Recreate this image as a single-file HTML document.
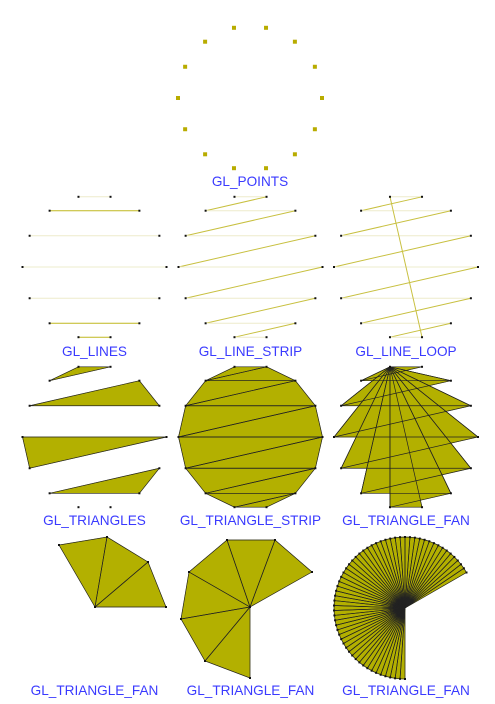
<!DOCTYPE html>
<html><head><meta charset="utf-8">
<style>
html,body{margin:0;padding:0;background:#fff;}
svg{display:block;}
text{font-family:"Liberation Sans",Arial,sans-serif;font-size:13.6px;fill:#3a3aff;}
</style></head>
<body>
<svg id="s" width="495" height="704" viewBox="0 0 495 704"></svg>
<script>
const panelNames = ["GL_POINTS","GL_LINES","GL_LINE_STRIP","GL_LINE_LOOP","GL_TRIANGLES","GL_TRIANGLE_STRIP","GL_TRIANGLE_FAN","GL_TRIANGLE_FAN","GL_TRIANGLE_FAN","GL_TRIANGLE_FAN"];
const vertexCount = 14;
const radius = 72;
const fan1Pts = [[95,607],[59,545],[107,537],[148,562],[166,607]];
const fan2Pts = [[250,607],[312,572],[275,540],[227,540],[189,572],[181,619],[205,661],[250,678]];
const fan3StartDeg = 30;
const fan3EndDeg = 270;
const fan3Segments = 60;

const S = document.getElementById('s');
const NS = 'http://www.w3.org/2000/svg';
const FILL = '#b3b000';
function el(tag, attrs, name){
  const e = document.createElementNS(NS, tag);
  for (const k in attrs) e.setAttribute(k, attrs[k]);
  
  
  S.appendChild(e);
  return e;
}
function circlePts(cx, cy){
  const pts = [];
  const rows = vertexCount/2;
  for (let k=0;k<rows;k++){
    const a = (90 + 180/vertexCount + k*360/vertexCount) * Math.PI/180;
    const dx = radius*Math.cos(a), y = cy - radius*Math.sin(a);
    pts.push([cx + dx, y]);
    pts.push([cx - dx, y]);
  }
  return pts;
}
function dots(pts, name){
  pts.forEach(p=>el('rect',{x:p[0]-1,y:p[1]-1,width:2,height:2,fill:'#111'}, name));
}
function label(x,y,t){
  const e = el('text',{x:x,y:y,'text-anchor':'middle'}, 'label-'+t.toLowerCase().replace(/_/g,'-'));
  e.textContent = t;
}
function line(a,b,stroke,w,name){
  el('line',{x1:a[0],y1:a[1],x2:b[0],y2:b[1],stroke:stroke,'stroke-width':w||1}, name);
}
function tris(list, name){
  list.forEach(t=>el('polygon',{points:t.map(p=>p.join(',')).join(' '),fill:FILL,stroke:FILL,'stroke-width':0.5}, name));
  list.forEach(t=>el('polygon',{points:t.map(p=>p.join(',')).join(' '),fill:'none',stroke:'#222','stroke-width':0.7}, name+'-edge'));
}

// GL_POINTS
circlePts(250,98).forEach(p=>el('rect',{x:p[0]-2,y:p[1]-2,width:4,height:4,fill:'#b8ac00'}, 'point'));
label(250,186,panelNames[0]);

// lines row
const L = circlePts(94.5,267);
for (let i=0;i<vertexCount;i+=2) line(L[i],L[i+1], (i===2||i===10||i===12)?'#c0b820':'#eeeccc',1,'line-segment');
dots(L,'vertex');
label(94.5,356,panelNames[1]);

const LS = circlePts(250.5,267);
for (let i=0;i<vertexCount-1;i++) line(LS[i],LS[i+1], i%2? '#c8c040':'#eeeccc',1,'strip-segment');
dots(LS,'vertex');
label(250.5,356,panelNames[2]);

const LL = circlePts(406,267);
for (let i=0;i<vertexCount;i++) line(LL[i],LL[(i+1)%vertexCount], (i%2||i===vertexCount-1)? '#c8c040':'#eeeccc',1,'loop-segment');
dots(LL,'vertex');
label(406,356,panelNames[3]);

// triangles row
const T = circlePts(94.5,437);
let list = [];
for (let i=0;i+2<vertexCount;i+=3) list.push([T[i],T[i+1],T[i+2]]);
tris(list,'triangle');
dots(T,'vertex');
label(94.5,525,panelNames[4]);

const TS = circlePts(250.5,437);
list = [];
for (let i=0;i+2<vertexCount;i++) list.push([TS[i],TS[i+1],TS[i+2]]);
tris(list,'strip-triangle');
dots(TS,'vertex');
label(250.5,525,panelNames[5]);

const TF = circlePts(406,437);
list = [];
for (let i=1;i+1<vertexCount;i++) list.push([TF[0],TF[i],TF[i+1]]);
tris(list,'fan-triangle');
dots(TF,'vertex');
label(406,525,panelNames[6]);

// fans row
list = [];
for (let i=1;i+1<fan1Pts.length;i++) list.push([fan1Pts[0],fan1Pts[i],fan1Pts[i+1]]);
tris(list,'fan1-triangle');
dots(fan1Pts,'vertex');
label(94.5,695,panelNames[7]);

list = [];
for (let i=1;i+1<fan2Pts.length;i++) list.push([fan2Pts[0],fan2Pts[i],fan2Pts[i+1]]);
tris(list,'fan2-triangle');
dots(fan2Pts,'vertex');
label(250.5,695,panelNames[8]);

const f3 = [[405,608]];
for (let k=0;k<=fan3Segments;k++){
  const a = (fan3StartDeg + (fan3EndDeg-fan3StartDeg)*k/fan3Segments)*Math.PI/180;
  f3.push([405+71*Math.cos(a), 608-71*Math.sin(a)]);
}
list = [];
for (let i=1;i+1<f3.length;i++) list.push([f3[0],f3[i],f3[i+1]]);
tris(list,'fan3-triangle');
dots(f3.slice(1),'vertex');
label(406,695,panelNames[9]);
</script>
</body></html>
